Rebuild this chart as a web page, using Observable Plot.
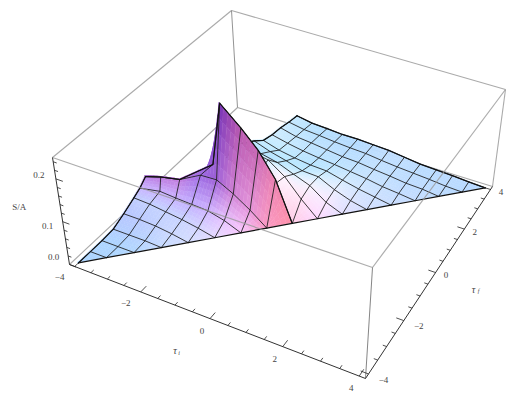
<!DOCTYPE html>
<html><head><meta charset="utf-8">
<script src="https://cdn.jsdelivr.net/npm/d3@7"></script>
<script src="https://cdn.jsdelivr.net/npm/@observablehq/plot@0.6"></script>
<style>html,body{margin:0;padding:0;background:#fff}svg{display:block}</style>
</head><body><div id="chart"></div>
<script>
// ---- values ----
const frontTauI = [-4,-3.5,-3,-2.5,-2,-1.5,-1,-0.5,0];
const frontTauF = [-4,-3.5,-3,-2.5,-2,-1.5,-1,-0.5,0];
const frontZ = [
 [0],
 [0,0],
 [0,0,0],
 [.002,.002,.002,0],
 [.014,.014,.012,.007,0],
 [.028,.026,.021,.016,.009,0],
 [.037,.033,.03,.028,.026,.016,0],
 [.051,.063,.063,.075,.077,.056,.03,0],
 [.051,.063,.063,.096,.239,.194,.152,.094,0]
];
// the cut edge of the front sheet does not follow the grid
const edgeRowM1F  = [-1.2,-1,-1,-1,-1,-1,-1];
const edgeRowM05F = [-.9,-.9,-.75,-.5,-.5,-.5,-.5,-.5];
const edgeRow0F   = [-.9,-.9,-.75,-.25,0,0,0,0,0];
const edgeRow0I   = [-4,-3.5,-3,-2.25,-2.1,-1.5,-1,-.5,0];

const backTauI = [-2,-1.5,-1,-0.5,0,0.5,1,1.5,2,2.5,3,3.5,4];
const backTauF = [0,0.5,1,1.5,2,2.5,3,3.5,4];
const backZ = [
 [.105,.105,.098,.084,0],
 [.117,.112,.105,.077,.035,0],
 [.098,.084,.075,.059,.044,.016,0],
 [.08,.066,.056,.044,.042,.023,.009,0],
 [.059,.047,.04,.035,.033,.023,.014,.007,0],
 [.051,.042,.035,.03,.026,.021,.016,.009,.005,0],
 [.047,.037,.033,.028,.023,.021,.016,.012,.007,.005,0],
 [.04,.033,.03,.026,.023,.021,.016,.012,.009,.006,.002,0],
 [.035,.028,.026,.023,.023,.021,.019,.014,.009,.007,.005,.002,0]
];
const iMajor = [-4,-2,0,2,4];
const iMinor = [-3.5,-3,-2.5,-1.5,-1,-.5,.5,1,1.5,2.5,3,3.5];
const zMajor = [0,.1,.2];
const zMinor = [.02,.04,.06,.08,.12,.14,.16,.18,.22,.24];

// ---- view of the box ----
const R = 4.16, ZT = .25;
const floorQ = [[69,264],[365,378],[492,186],[237,107]];
const roofQ  = [[52,157],[372,267],[505,89],[231,10]];
function quadMap(q){
  const [p0,p1,p2,p3]=q;
  const dx1=p1[0]-p2[0],dx2=p3[0]-p2[0],sx=p0[0]-p1[0]+p2[0]-p3[0];
  const dy1=p1[1]-p2[1],dy2=p3[1]-p2[1],sy=p0[1]-p1[1]+p2[1]-p3[1];
  const det=dx1*dy2-dx2*dy1;
  const g=(sx*dy2-dx2*sy)/det,h=(dx1*sy-sx*dy1)/det;
  const A=p1[0]-p0[0]+g*p1[0],B=p3[0]-p0[0]+h*p3[0];
  const D=p1[1]-p0[1]+g*p1[1],E=p3[1]-p0[1]+h*p3[1];
  return (a,b)=>{const w=1+g*a+h*b;return [(A*a+B*b+p0[0])/w,(D*a+E*b+p0[1])/w];};
}
const floorMap=quadMap(floorQ), roofMap=quadMap(roofQ);
function P(i,f,z){
  const a=(i+R)/(2*R),b=(f+R)/(2*R),t=z/ZT;
  const u=floorMap(a,b),v=roofMap(a,b);
  return [u[0]+(v[0]-u[0])*t,u[1]+(v[1]-u[1])*t];
}
// camera basis and the three coloured lights of the renderer
const cam=[[.919,.394,0],[-.331,.558,.762],[.300,-.700,.643]];
const ambient=[.312,.188,.4];
const s2=Math.SQRT1_2,s3=1/Math.sqrt(3);
const lights=[{d:[s2,0,s2],c:[.8,0,0]},{d:[s3,s3,s3],c:[0,.8,0]},{d:[0,s2,s2],c:[0,0,.8]}];
function shade(n){
  const v=cam.map(r=>r[0]*n[0]+r[1]*n[1]+r[2]*n[2]);
  const c=ambient.slice();
  for(const l of lights){
    const d=Math.max(0,v[0]*l.d[0]+v[1]*l.d[1]+v[2]*l.d[2]);
    for(let k=0;k<3;k++)c[k]+=d*l.c[k];
  }
  return c.map(x=>Math.min(1,x));
}
const W=p=>[p[0]/8,p[1]/8,p[2]/ZT*.4];
function cross(a,b){return [a[1]*b[2]-a[2]*b[1],a[2]*b[0]-a[0]*b[2],a[0]*b[1]-a[1]*b[0]];}
function sub(a,b){return [a[0]-b[0],a[1]-b[1],a[2]-b[2]];}

// build a sheet: nodes[r][c] = [tauI,tauF,z], triangular
function sheet(nodes,tag){
  const rows=nodes.length;
  const sum=nodes.map(r=>r.map(()=>[0,0,0]));
  const cells=[];
  for(let r=0;r<rows-1;r++){
    const rowA=nodes[r],rowB=nodes[r+1];
    for(let c=0;c<rowB.length-1;c++){
      const c2=Math.min(c+1,rowA.length-1);
      if(c>=rowA.length) continue;
      const idx=[[r,c],[r,c2],[r+1,c+1],[r+1,c]];
      cells.push(idx);
      const [p0,p1,p2,p3]=idx.map(([a,b])=>W(nodes[a][b]));
      let n=cross(sub(p2,p0),sub(p3,p1));
      const L=Math.hypot(...n);
      if(L<1e-9)continue;
      n=n.map(x=>x/L); if(n[2]<0)n=n.map(x=>-x);
      for(const [a,b] of idx){for(let k=0;k<3;k++)sum[a][b][k]+=n[k];}
    }
  }
  const col=sum.map(r=>r.map(n=>{const L=Math.hypot(...n)||1;return shade(n.map(x=>x/L));}));
  const N=5, fills=[];
  const order=cells.slice().sort((u,v)=>{
    const du=nodes[u[0][0]][u[0][1]],dv=nodes[v[0][0]][v[0][1]];
    return (dv[1]-dv[0])-(du[1]-du[0]);
  });
  let id=0;
  const mix=(q,v,s,t)=>{const out=[];for(let k=0;k<q[0].length;k++){
    out[k]=(q[0][k]*(1-s)+q[1][k]*s)*(1-t)+(q[3][k]*(1-s)+q[2][k]*s)*t;}return out;};
  for(const idx of order){
    const q=idx.map(([a,b])=>nodes[a][b]),cq=idx.map(([a,b])=>col[a][b]);
    for(let m=N-1;m>=0;m--)for(let l=0;l<N;l++){
      const s0=l/N,s1=(l+1)/N,t0=m/N,t1=(m+1)/N;
      const a=P(...mix(q,0,s0,t0)),b=P(...mix(q,0,s1,t0)),c=P(...mix(q,0,s1,t1)),d=P(...mix(q,0,s0,t1));
      const cc=mix(cq,0,(s0+s1)/2,(t0+t1)/2).map(x=>Math.round(x*255));
      const color=`rgb(${cc[0]},${cc[1]},${cc[2]})`;
      const key=tag+(id++);
      fills.push({k:key,c:color,x1:a[0],y1:a[1],x2:d[0],y2:d[1]});
      fills.push({k:key,c:color,x1:b[0],y1:b[1],x2:c[0],y2:c[1]});
    }
  }
  const lines=[];
  nodes.forEach((row,r)=>row.forEach((n,c)=>{const p=P(...n);lines.push({k:tag+"r"+r,x:p[0],y:p[1]});}));
  const cols=Math.max(...nodes.map(r=>r.length));
  for(let c=0;c<cols;c++)nodes.forEach((row,r)=>{if(c<row.length){const p=P(...row[c]);lines.push({k:tag+"c"+c,x:p[0],y:p[1]});}});
  const edge=[];
  nodes.forEach(row=>{const p=P(...row[row.length-1]);edge.push({k:tag+"d",x:p[0],y:p[1]});});
  nodes.forEach(row=>{const p=P(...row[0]);edge.push({k:tag+"l",x:p[0],y:p[1]});});
  nodes[rows-1].forEach(n=>{const p=P(...n);edge.push({k:tag+"t",x:p[0],y:p[1]});});
  return {fills,lines,edge};
}
const frontNodes=frontZ.map((row,r)=>row.map((z,c)=>{
  let i=frontTauI[c],f=frontTauF[r];
  if(r===6)f=edgeRowM1F[c];
  if(r===7)f=edgeRowM05F[c];
  if(r===8){f=edgeRow0F[c];i=edgeRow0I[c];}
  return [i,f,z];
}));
// the back sheet has its diagonal on the far right of each row
const backNodes=backZ.map((row,r)=>row.map((z,c)=>[backTauI[c],backTauF[r],z]));
const front=sheet(frontNodes,"F"), back=sheet(backNodes,"B");

const sheetMarks=s=>[
  Plot.area(s.fills,{x1:"x1",y1:"y1",x2:"x2",y2:"y2",z:"k",fill:"c",stroke:"c",strokeWidth:.5}),
  Plot.line(s.lines,{x:"x",y:"y",z:"k",stroke:"#1a1a1a",strokeWidth:1,strokeOpacity:.85}),
  Plot.line(s.edge,{x:"x",y:"y",z:"k",stroke:"#111",strokeWidth:1.2})
];

// box edges
const C=(sx,sy,t)=>[sx*R,sy*R,t*ZT];
const seg=(a,b)=>{const p=P(...a),q=P(...b);return {x1:p[0],y1:p[1],x2:q[0],y2:q[1]};};
const backEdges=[
 seg(C(-1,-1,1),C(-1,1,1)),seg(C(-1,1,1),C(1,1,1)),
 seg(C(-1,-1,0),C(-1,1,0)),seg(C(-1,1,0),C(1,1,0)),
 seg(C(1,1,0),C(1,1,1))
];
const backDark=[seg(C(-1,1,0),C(-1,1,1))];
const frontEdges=[seg(C(-1,-1,1),C(1,-1,1)),seg(C(1,-1,1),C(1,1,1))];
const frontThin=[seg(C(1,-1,0),C(1,-1,1))];
const axes=[seg(C(-1,-1,0),C(-1,-1,1)),seg(C(-1,-1,0),C(1,-1,0)),seg(C(1,-1,0),C(1,1,0))];
// ticks
const tickI=(v,l)=>seg([v,-R,0],[v,-R+l,0]);
const tickF=(v,l)=>seg([R,v,0],[R-l,v,0]);
const tickZ=(v,l)=>seg([-R,-R,v],[-R+l,-R,v]);
const ticks=[
 ...iMajor.map(v=>tickI(v,.24)),...iMinor.map(v=>tickI(v,.12)),
 ...iMajor.map(v=>tickF(v,.2)),...iMinor.map(v=>tickF(v,.1)),
 ...zMajor.map(v=>tickZ(v,.2)),...zMinor.map(v=>tickZ(v,.1))
];
const lab=(s,p)=>{const q=P(...p);return {s,x:q[0],y:q[1]};};
const fmt=v=>(v<0?"\u2212":"")+Math.abs(v);
const font={fontFamily:"Liberation Serif",fontSize:9,fill:"#444"};
const txt=(arr,dx,dy,extra={})=>Plot.text(arr,{x:"x",y:"y",text:"s",dx,dy,...font,...extra});

const chart=Plot.plot({
  width:519,height:401,margin:0,
  x:{domain:[0,519],axis:null},y:{domain:[401,0],axis:null},
  color:{type:"identity"},
  marks:[
    Plot.link(backEdges,{x1:"x1",y1:"y1",x2:"x2",y2:"y2",stroke:"#aaa",strokeWidth:1.1}),
    Plot.link(backDark,{x1:"x1",y1:"y1",x2:"x2",y2:"y2",stroke:"#777",strokeWidth:.8}),
    ...sheetMarks(back),
    ...sheetMarks(front),
    Plot.link(frontEdges,{x1:"x1",y1:"y1",x2:"x2",y2:"y2",stroke:"#999",strokeWidth:1.2,strokeOpacity:.8}),
    Plot.link(frontThin,{x1:"x1",y1:"y1",x2:"x2",y2:"y2",stroke:"#666",strokeWidth:.8}),
    Plot.link(axes,{x1:"x1",y1:"y1",x2:"x2",y2:"y2",stroke:"#333",strokeWidth:1}),
    Plot.link(ticks,{x1:"x1",y1:"y1",x2:"x2",y2:"y2",stroke:"#222",strokeWidth:.8}),
    txt(iMajor.filter(v=>v<0).map(v=>lab(fmt(v),[v,-R,0])),-15,11),
    txt(iMajor.filter(v=>v>=0).map(v=>lab(fmt(v),[v,-R,0])),-8,12.5),
    txt(iMajor.filter(v=>v<0).map(v=>lab(fmt(v),[R,v,0])),15,6),
    txt(iMajor.filter(v=>v>=0).map(v=>lab(fmt(v),[R,v,0])),10.5,3),
    txt([lab("0.0",[-R,-R,0])],-16,-7),
    txt([lab("0.1",[-R,-R,.1])],-15,4),
    txt([lab("0.2",[-R,-R,.2])],-17,-4),
    txt([lab("S/A",[-R,-R,.12])],-42,-6),
    txt([lab("\u03c4",[0,-R,0])],-35,32,{fontStyle:"italic",fontSize:10}),
    txt([lab("i",[0,-R,0])],-31,34,{fontStyle:"italic",fontSize:6}),
    txt([lab("\u03c4",[R,0,0])],38,17,{fontStyle:"italic",fontSize:10}),
    txt([lab("f",[R,0,0])],43,19,{fontStyle:"italic",fontSize:6})
  ]
});
document.getElementById("chart").appendChild(chart);
</script></body></html>
